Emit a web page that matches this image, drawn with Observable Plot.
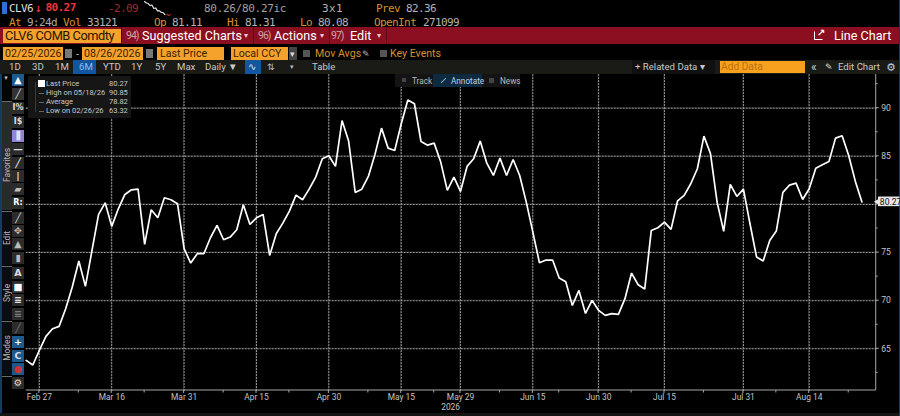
<!DOCTYPE html>
<html>
<head>
<meta charset="utf-8">
<script src="https://cdn.jsdelivr.net/npm/d3@7"></script>
<script src="https://cdn.jsdelivr.net/npm/@observablehq/plot@0.6"></script>
<style>
html,body{margin:0;padding:0;background:#000;width:900px;height:416px;overflow:hidden}
#page{position:relative;width:900px;height:416px;background:#000;overflow:hidden;font-family:Roboto,sans-serif}
.b{position:absolute}
.t{position:absolute;white-space:nowrap;line-height:1;transform:translateY(-50%)}
#chart{position:absolute;left:0;top:74px}
#spark{position:absolute;left:143px;top:0}
svg{display:block}
</style>
</head>
<body>
<div id="page"></div>
<script>
// ---------- chart data ----------
const prices = [63.8,63.32,64.84,66.29,67.09,67.33,69.17,71.42,74.12,71.49,75.22,78.96,80.17,77.72,79.55,81.04,81.52,81.59,75.85,79.45,78.62,80.69,80.49,80.07,75.4,73.91,74.88,74.88,76.54,77.82,76.33,76.61,77.37,79.97,77.92,78.62,78.96,74.7,76.95,78.06,79.31,80.97,
80.49,81.59,82.84,84.74,85.06,83.95,88.72,86.58,81.25,81.59,82.91,85.19,87.93,85.85,85.61,88.38,90.85,90.46,86.54,86.16,86.37,84.4,81.46,82.84,81.35,83.95,84.74,86.58,84.29,83.01,84.81,83.01,84.67,83.01,80.24,77.13,73.94,74.22,74.22,72.35,71.97,69.51,71.07,68.68,70.03,68.99,
68.48,68.65,68.58,70.21,72.87,71.66,71.21,77.3,77.58,78.17,77.41,80.38,80.94,82.15,83.71,87.1,85.26,80.24,77.2,82.08,80.83,81.59,77.99,74.53,74.12,76.26,77.23,81.25,82.01,82.22,80.52,81.63,83.77,84.12,84.47,86.89,87.13,85.09,82.42,80.27];
const tradingDayTicks = [2,13,24,35,46,57,66,77,87,97,109,119];
const tradingDayLabels = ["Feb 27","Mar 16","Mar 31","Apr 15","Apr 30","May 15","May 29","Jun 15","Jun 30","Jul 15","Jul 31","Aug 14"];
const minorDayTicks = [8,18,30,40,52,62,72,81,92,103,114,125];
const priceTicks = [65,70,75,80,85,90];
const minorPriceTicks = [62.5,67.5,72.5,77.5,82.5,87.5,92.5];
const lastPrice = 80.27;
const yearLabel = "2026";
const sparkValues = [10,9,8.6,7.2,7.6,5.2,5.6,3.6,3.7,2.6,2.3,1,1.2,.4,1];
const legendNames = ["Last Price","High on 05/18/26","Average","Low on 02/26/26"];
const legendValues = ["80.27","90.85","78.82","63.32"];

// ---------- chart ----------
const yMin=60.67,yMax=93.5,xMax=129.18;
const HX=.076,HY=.052;
const tickLabel = d=>tradingDayLabels[tradingDayTicks.indexOf(d)];
const AXIS="#a8a8a8",DOT={stroke:"#9c9c9c",strokeWidth:1.05,strokeDasharray:"1,2"};
const vGuides = tradingDayTicks.flatMap(t=>[{x:t,y:yMin,k:t},{x:t,y:yMax,k:t}]);
const hGuides = priceTicks.flatMap(p=>[{x:0,y:p,k:p},{x:xMax,y:p,k:p}]);
const vRects = tradingDayTicks.map(t=>({x1:t-HX,x2:t+HX,y1:yMin,y2:yMax}));
const hRects = priceTicks.map(p=>({x1:0,x2:xMax,y1:p-HY,y2:p+HY}));
const axisRects = [
  {x1:0,x2:xMax,y1:yMin-HY,y2:yMin+HY},
  {x1:xMax-HX,x2:xMax+HX,y1:yMin,y2:yMax},
  ...tradingDayTicks.map(t=>({x1:t-HX,x2:t+HX,y1:yMin-.31,y2:yMin})),
  ...minorDayTicks.map(t=>({x1:t-HX,x2:t+HX,y1:yMin-.26,y2:yMin})),
  ...priceTicks.map(p=>({x1:xMax,x2:xMax+.46,y1:p-HY,y2:p+HY})),
  ...minorPriceTicks.map(p=>({x1:xMax,x2:xMax+.3,y1:p-HY,y2:p+HY}))
];
const rectOf=fill=>({x1:"x1",x2:"x2",y1:"y1",y2:"y2",fill});
const chart = Plot.plot({
  width:900,height:342,marginLeft:25.7,marginRight:24.3,marginTop:0,marginBottom:26,
  style:{background:"transparent",fontFamily:"Roboto, sans-serif",overflow:"visible"},
  x:{type:"linear",domain:[0,xMax]},
  y:{type:"linear",domain:[yMin,yMax]},
  marks:[
    Plot.rect(vRects,rectOf("#2e2e2e")),
    Plot.rect(hRects,rectOf("#2e2e2e")),
    Plot.line(vGuides,{x:"x",y:"y",z:"k",...DOT}),
    Plot.line(hGuides,{x:"x",y:"y",z:"k",...DOT}),
    Plot.rect(axisRects,rectOf(AXIS)),
    Plot.axisX({ticks:tradingDayTicks,tickFormat:tickLabel,tickSize:0,tickPadding:4,fill:"#c4c4c4",fontSize:8.4,label:null}),
    Plot.axisY({anchor:"right",ticks:priceTicks,tickFormat:d=>d===80?"":String(d),tickSize:0,tickPadding:5,fill:"#c4c4c4",fontSize:8.6,label:null}),
    Plot.text([yearLabel],{x:()=>64.5,frameAnchor:"bottom",dy:19,fill:"#c4c4c4",fontSize:8.4}),
    Plot.line(prices,{x:(d,i)=>i,y:d=>d,stroke:"#fff",strokeWidth:1.7,strokeLinejoin:"miter"}),
    Plot.dot([lastPrice],{x:()=>xMax+.25,y:d=>d,symbol:"triangle",rotate:-90,r:2.6,fill:"#e8e8e8"}),
    Plot.rect([lastPrice],{x1:()=>xMax+.35,x2:()=>xMax+3.6,y1:d=>d-.5,y2:d=>d+.5,fill:"#e8e8e8"}),
    Plot.text([lastPrice],{x:()=>xMax+.55,y:d=>d,text:d=>d.toFixed(2),textAnchor:"start",fill:"#111",fontSize:8.6})
  ]
});
chart.id="chart";

const spark = Plot.plot({
  width:28,height:16,margin:1,axis:null,
  style:{background:"transparent"},
  x:{axis:null},y:{axis:null},
  marks:[Plot.line(sparkValues,{x:(d,i)=>i,y:d=>d,stroke:(d,i)=>i>=12?"#b33":"#eee",strokeWidth:1.1})]
});
spark.id="spark";

// ---------- terminal chrome ----------
(function(){
const page = document.getElementById("page");
const ORANGE="#f4a22c", ORTXT="#d9902a", RED="#8b0f20", GR="#c8c8c8";
function box(x,y,w,h,bg,extra){const e=document.createElement("div");e.className="b";e.style.cssText+=`left:${x}px;top:${y}px;width:${w}px;height:${h}px;background:${bg};${extra||""}`;page.appendChild(e);return e;}
function txt(x,y,s,color,size,font,extra){const e=document.createElement("div");e.className="t";e.textContent=s;e.style.cssText+=`left:${x}px;top:${y}px;color:${color};font-size:${size}px;font-family:${font||"Roboto"};${extra||""}`;page.appendChild(e);return e;}
const MONO="'DejaVu Sans Mono'", TIGHT="letter-spacing:-.6px";
box(2,2,5,12,"#2f6fd6");
txt(9,8,"CLV6","#ddd",11,MONO,TIGHT);
txt(35,8,"↓","#e0323c",11,MONO,"font-weight:bold");
txt(45.5,8,"80.27","#ee3240",11.2,MONO,"font-weight:bold;letter-spacing:-.7px");
txt(108,8,"-2.09","#a32a30",11,MONO,TIGHT);
txt(204,8,"80.26/80.27ic","#a0a0a0",11,MONO,"letter-spacing:-.3px");
txt(322,8,"3x1","#b4b4b4",11,MONO,"letter-spacing:.4px");
txt(376,8,"Prev",ORTXT,11,MONO,TIGHT);
txt(406,8,"82.36","#b4b4b4",11,MONO,TIGHT);
[[9,"At",ORTXT],[27,"9:24d","#aaa"],[63,"Vol",ORTXT],[87,"33121","#b4b4b4"],[154,"Op",ORTXT],[172,"81.11","#b4b4b4"],[227,"Hi",ORTXT],[245,"81.31","#b4b4b4"],[300,"Lo",ORTXT],[318,"80.08","#b4b4b4"],[374,"OpenInt",ORTXT],[423,"271099","#b4b4b4"]]
  .forEach(([x,s,c])=>txt(x,21.5,s,c,11,MONO,TIGHT));

box(0,27,900,16.5,RED);
box(3,29,117.5,14,ORANGE);
txt(5,36.2,"CLV6 COMB Comdty","#2a1400",12.8,"Roboto","letter-spacing:-.45px");
box(120.5,27,1,16.5,"#4a0610");box(253,27,1,16.5,"#5d0a16");box(329,27,1,16.5,"#5d0a16");box(386,27,1,16.5,"#5d0a16");
const CARET="#e8c8cc";
txt(126,35.5,"94)","#c9a5aa",10.5,"Roboto","letter-spacing:-1px");
txt(142,35.5,"Suggested Charts","#fff",12.6,"Roboto");
txt(244,35.5,"▾",CARET,8);
txt(258,35.5,"96)","#c9a5aa",10.5,"Roboto","letter-spacing:-1px");
txt(274,35.5,"Actions","#fff",12.6,"Roboto");
txt(320,35.5,"▾",CARET,8);
txt(331,35.5,"97)","#c9a5aa",10.5,"Roboto","letter-spacing:-1px");
txt(350,35.5,"Edit","#fff",12.6,"Roboto");
txt(377,35.5,"▾",CARET,8);
txt(834,35.5,"Line Chart","#fff",12.6,"Roboto");
box(814,30.5,7,7,"transparent","border:1.6px solid #fff;border-top-color:transparent;border-right-color:transparent");
txt(817,32.5,"↗","#fff",10,"'DejaVu Sans'","font-weight:bold");

// date row
box(3,47,60,13,ORANGE);txt(5,53.7,"02/25/2026","#3a1d00",10.6);
box(65,49,7,9,"#777");txt(76,53.7,"-","#bbb",11);
box(82,47,61,13,ORANGE);txt(84,53.7,"08/26/2026","#3a1d00",10.6);
box(146,49,7,9,"#777");
box(157,47,67,13,ORANGE);txt(160,53.7,"Last Price","#3a1d00",10.6);
box(231,47,57,13,ORANGE);txt(233,53.7,"Local CCY","#3a1d00",10.6);
box(289,47,8,13,"#444");txt(290,53.7,"▾","#ddd",9);
box(303,50,7,7,"#555");txt(315,53.7,"Mov Avgs",ORTXT,10.6);
box(380,50,7,7,"#555");txt(390,53.7,"Key Events",ORTXT,10.6);
txt(362,53.7,"✎","#bbb",9,"'DejaVu Sans'");

// range row
box(0,60,900,13.5,"#1a1a16");
box(73,60,23,13.5,"#11569f");
[[9,"1D"],[32,"3D"],[55,"1M"],[79,"6M"],[103,"YTD"],[131,"1Y"],[155,"5Y"],[177,"Max"],[205,"Daily ▼"],[312,"Table"]]
  .forEach(([x,s])=>txt(x,66.8,s,s==="6M"?"#8fc0f2":GR,9.6));
box(245,60,16,13.5,"#11569f");
txt(248,66.8,"∿","#cfe3ff",10,"'DejaVu Sans'");
txt(267,66.8,"⇅","#bbb",9,"'DejaVu Sans'");
txt(290,66.6,"▾","#bbb",7);
box(632,60,83,13.5,"#101010");
txt(635,66.8,"+ Related Data ▾",GR,9.6);
box(720,60.5,85,12.5,"#f7a11e");txt(721,66.8,"Add Data","#b9720f",10.2);
txt(811,66.5,"«","#ccc",12);
txt(825,66.8,"✎","#ddd",9,"'DejaVu Sans'");
txt(838,66.8,"Edit Chart",GR,9.6);
txt(886,66.8,"⚙","#ccc",11,"'DejaVu Sans'");

// left toolbar
box(0,74,2,342,"#143a66");
box(2,74,9.5,26,"#050505");
box(2,101,9.5,109,"#2a2a2a");
box(2,211,9.5,54,"#0b0b10");
box(2,266,9.5,54,"#0b0b10");
box(2,321,9.5,54,"#0b0b10");
[100.5,210.5,265.5,320.5,375.5].forEach(y=>box(2,y,10,1,"#6a6a6a"));
txt(3,78,"▼","#bbb",6);
[["Favorites",165],["Edit",238],["Style",293],["Modes",348]].forEach(([s,y])=>{
  const e=txt(6.7,y,s,"#b8b8b8",8.4);
  e.style.transform="translate(-50%,-50%) rotate(-90deg)";
});
const tools=[[80,"#1c5a8c","▲","#fff"],[94,"#333","╱","#ddd"],[108,"#2c2c2c","I%","#ddd"],[122,"#2c2c2c","I$","#ddd"],[135.7,"#8f86d8","⫼","#eef"],[149,"#2c2c2c","—","#ddd"],[162.7,"#2c2c2c","╱","#fff"],[176,"#2c2c2c","|","#ddd"],[189.3,"#2c2c2c","▰","#bbb"],[203.3,"#2c2c2c","R:","#fff"],[218.3,"#2c2c2c","╱","#ddd"],[231.3,"#2c2c2c","✥","#bbb"],[244.3,"#2c2c2c","▲","#bbb"],[258,"#2c2c2c","▮","#bbb"],[272.7,"#2c2c2c","A","#ddd"],[286.7,"#2c2c2c","■","#fff"],[300,"#2c2c2c","≡","#fff"],[314,"#2c2c2c","≡","#888"],[327.7,"#2c2c2c","╱","#777"],[341.7,"#1c5a8c","+","#fff"],[355.7,"#1c5a8c","C","#dde"],[369.3,"#1c5a8c","●","#c33"],[383.3,"#2c2c2c","⚙","#ddd"]];
tools.forEach(([y,bg,g,c])=>{
  box(12,y-6,12,12,bg);
  const e=txt(18,y,g,c,g.length>1?8:9.5,"'DejaVu Sans'","font-weight:bold");
  e.style.transform="translate(-50%,-50%)";
});
// window edges
box(0,412.5,900,3.5,"#151515");
box(898.5,0,1.5,416,"#143a66");

// plots go above the panels
page.appendChild(chart);
page.appendChild(spark);

// legend box
box(28,76,103,42,"#161616");
box(35,81.5,1,30,"#3a3a3a");
box(38,79.5,7,7,"#fff");
legendNames.forEach((n,i)=>{
  const y=84.3+i*9;
  txt(46,y,n,"#c6c6c6",7.5);
  txt(109,y,legendValues[i],"#c6c6c6",7.5);
});
[93,102,111].forEach(y=>box(39,y-.5,5,1,"#666"));

// track / annotate / news
box(395,74,38,13,"#141414");box(433,74,49,13,"#0e2a40");box(482,74,38,13,"#141414");
txt(412,80.8,"Track","#bbb",8.2);txt(451,80.8,"Annotate","#bdd2e0",8.2);txt(500,80.8,"News","#bbb",8.2);
box(402,78,4,4,"#444");box(489,77.5,5,5,"#444");
box(440,80,7,1,"#7fa8c4","transform:rotate(-45deg)");
chart.getBoundingClientRect();
})();
</script>
</body>
</html>
